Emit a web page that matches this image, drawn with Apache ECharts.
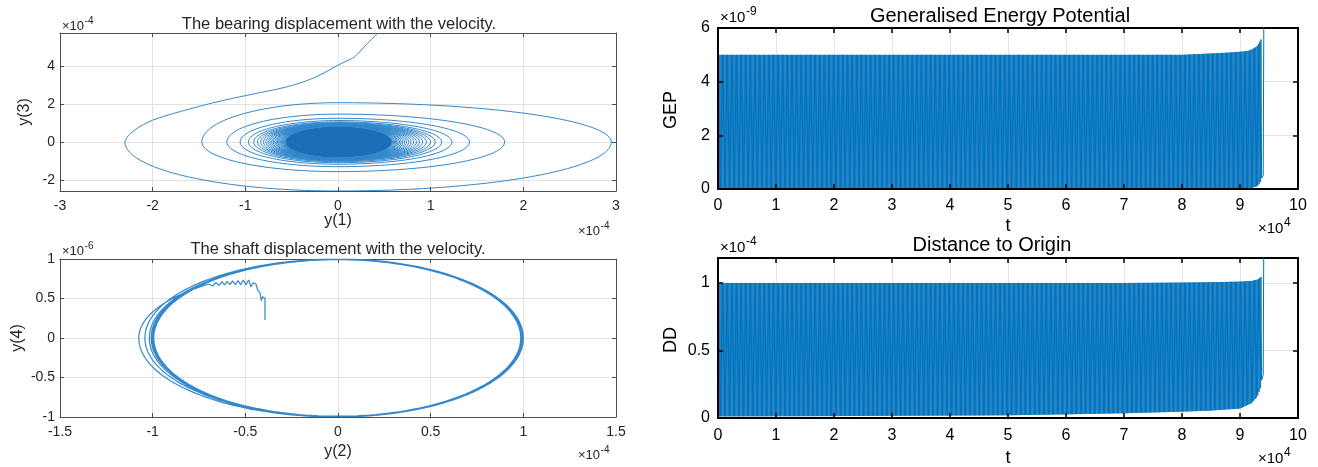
<!DOCTYPE html>
<html>
<head>
<meta charset="utf-8">
<script src="https://cdn.jsdelivr.net/npm/echarts@6/dist/echarts.min.js"></script>
<style>
  html, body { margin: 0; padding: 0; background: #ffffff; }
  #chart { width: 1318px; height: 467px; }
</style>
</head>
<body>
<div id="chart"></div>
<script>
// Axis units: bearing x,y in 1e-4; shaft x in 1e-4, shaft y in 1e-6;
// t in 1e4; GEP in 1e-9; DD in 1e-4.

// ---- Bearing phase portrait (y(1) vs y(3)) ----
// entry branch, from the top edge down to the first left turning point
const bearingEntryX = [0.43, 0.30, 0.18, 0.09, 0.00, -0.15, -0.30, -0.48, -0.66, -0.84, -1.02, -1.21, -1.40, -1.57, -1.74, -1.88, -2.00, -2.10, -2.18, -2.24, -2.28, -2.30];
const bearingEntryY = [5.74, 5.10, 4.49, 4.26, 4.05, 3.64, 3.30, 3.00, 2.78, 2.60, 2.42, 2.22, 2.00, 1.78, 1.55, 1.35, 1.15, 0.92, 0.68, 0.45, 0.22, 0.00];
// turning points of each revolution (left, bottom, right, top)
const bearingLeft   = [-2.30, -1.47, -1.20, -1.057, -0.967, -0.91, -0.87, -0.835, -0.805, -0.78, -0.757, -0.736, -0.717, -0.70, -0.684, -0.669, -0.655, -0.642, -0.63, -0.619, -0.609, -0.60, -0.591, -0.583, -0.575, -0.568];
const bearingBottom = [-2.58, -1.56, -1.30, -1.17, -1.09, -1.04, -1.00, -0.98, -0.965, -0.95, -0.94, -0.93, -0.92, -0.91, -0.90, -0.89, -0.885, -0.88, -0.875, -0.87, -0.865, -0.86, -0.855, -0.85, -0.845, -0.84];
const bearingRight  = [2.95, 1.80, 1.42, 1.23, 1.12, 1.05, 1.00, 0.955, 0.915, 0.88, 0.848, 0.818, 0.79, 0.765, 0.742, 0.72, 0.70, 0.682, 0.665, 0.649, 0.635, 0.622, 0.61, 0.599, 0.589, 0.58];
const bearingTop    = [2.07, 1.47, 1.25, 1.13, 1.06, 1.02, 0.99, 0.97, 0.955, 0.94, 0.93, 0.92, 0.91, 0.90, 0.89, 0.885, 0.88, 0.875, 0.87, 0.865, 0.86, 0.855, 0.85, 0.845, 0.84, 0.835];
// densely wound core: left, right, bottom, top
const bearingCore   = [-0.57, 0.585, -0.83, 0.83];

// ---- Shaft phase portrait (y(2) vs y(4)) ----
const shaftStartX = [-0.394, -0.394, -0.407, -0.414, -0.421, -0.432, -0.443, -0.457, -0.470, -0.482, -0.497, -0.511, -0.525, -0.540, -0.554, -0.569, -0.583, -0.598, -0.612, -0.626, -0.641, -0.659, -0.676, -0.698];
const shaftStartY = [0.228, 0.502, 0.523, 0.472, 0.574, 0.599, 0.684, 0.700, 0.650, 0.734, 0.675, 0.734, 0.675, 0.726, 0.675, 0.722, 0.675, 0.717, 0.671, 0.713, 0.667, 0.700, 0.658, 0.684];
const shaftLeft   = [-1.075, -1.042, -1.018, -1.008, -1.000, -0.994, -1.004, -0.996, -1.001];
const shaftBottom = [-1.000, -0.994, -1.000, -0.990, -0.998, -1.000, -0.993, -0.999, -1.000];
const shaftRight  = [1.000, 0.990, 0.997, 0.986, 1.000, 0.993, 0.988, 0.998, 0.992];
const shaftTop    = [1.000, 0.994, 1.000, 0.991, 0.999, 1.000, 0.993, 0.998, 0.996];

// ---- Generalised Energy Potential envelope ----
const gepT     = [0, 8.0, 8.5, 8.85, 9.03, 9.14, 9.2, 9.29, 9.34, 9.38];
const gepUpper = [5.0, 5.0, 5.05, 5.09, 5.12, 5.15, 5.2, 5.31, 5.49, 5.65];
const gepLower = [0, 0, 0, 0, 0.01, 0.02, 0.04, 0.10, 0.20, 0.45];
const gepTailT = [9.40, 9.412];
const gepTailV = [0.5, 7.0];

// ---- Distance to Origin envelope ----
const ddT     = [0, 2, 4, 5, 6, 7, 8, 8.5, 9.0, 9.2, 9.3, 9.35, 9.38];
const ddUpper = [1.0, 1.0, 1.0, 1.0, 1.0, 1.0, 1.003, 1.006, 1.01, 1.015, 1.025, 1.04, 1.05];
const ddLower = [0.012, 0.014, 0.018, 0.02, 0.027, 0.035, 0.047, 0.055, 0.07, 0.11, 0.16, 0.22, 0.30];
const ddTailT = [9.40, 9.412];
const ddTailV = [0.32, 1.5];

// sampling step of the time series (half an oscillation)
const halfStep = 0.011;

// ---- tick labels ----
const xTicksBearing = [-3, -2, -1, 0, 1, 2, 3];
const xTicksShaft   = [-1.5, -1, -0.5, 0, 0.5, 1, 1.5];
const xTicksTime    = [0, 1, 2, 3, 4, 5, 6, 7, 8, 9, 10];

// ---------------------------------------------------------------------------
const FONT = "'Liberation Sans', Arial, Helvetica, sans-serif";
const LINE_BLUE = '#3388cb';
const CORE_BLUE = '#1c6fb7';
const MATLAB_BLUE = '#0072BD';

function zip(xs, ys) { return xs.map((x, i) => [x, ys[i]]); }

// revolutions: top -> left -> bottom -> right -> top, radii switch where they meet
function spiral(lefts, bottoms, rights, tops, startDeg, firstTop, stepDeg) {
  const rad = Math.PI / 180;
  const pts = [];
  const n = lefts.length;
  for (let k = 0; k < n; k++) {
    const from = k === 0 ? startDeg : 90;
    const last = k === n - 1;
    for (let d = from; last ? d <= 450 + 1e-9 : d < 450 - 1e-9; d += stepDeg) {
      const c = Math.cos(d * rad), s = Math.sin(d * rad);
      const rx = d < 270 ? -lefts[k] : rights[k];
      const ry = d < 180 ? (k === 0 ? firstTop : tops[k - 1]) : (d < 360 ? -bottoms[k] : tops[k]);
      pts.push([rx * c, ry * s]);
    }
  }
  return pts;
}

function outline(ext, stepDeg) {
  const rad = Math.PI / 180, pts = [];
  for (let d = 0; d < 360; d += stepDeg) {
    const c = Math.cos(d * rad), s = Math.sin(d * rad);
    pts.push([(c >= 0 ? ext[1] : -ext[0]) * c, (s >= 0 ? ext[3] : -ext[2]) * s]);
  }
  return pts;
}

function envelopeAt(ts, vs, t) {
  if (t <= ts[0]) return vs[0];
  for (let i = 1; i < ts.length; i++) {
    if (t <= ts[i]) {
      const f = (t - ts[i - 1]) / (ts[i] - ts[i - 1]);
      return vs[i - 1] + f * (vs[i] - vs[i - 1]);
    }
  }
  return vs[vs.length - 1];
}

function oscillation(ts, lower, upper, tailT, tailV) {
  const pts = [];
  const end = ts[ts.length - 1];
  for (let i = 0; i * halfStep <= end + 1e-9; i++) {
    const t = i * halfStep;
    pts.push([t, i % 2 ? envelopeAt(ts, upper, t) : envelopeAt(ts, lower, t)]);
  }
  tailT.forEach((t, j) => pts.push([t, tailV[j]]));
  return pts;
}

// bearing paths
const bearingEntry = zip(bearingEntryX, bearingEntryY);
const bearingRings = spiral(bearingLeft, bearingBottom, bearingRight, bearingTop, 180, 0, 3);

// shaft path: the start branch joins the first revolution
const sx = shaftStartX[shaftStartX.length - 1], sy = shaftStartY[shaftStartY.length - 1];
const joinDeg = Math.acos(sx / -shaftLeft[0]) * 180 / Math.PI;
const joinTop = sy / Math.sin(joinDeg * Math.PI / 180);
const shaftPath = zip(shaftStartX, shaftStartY)
  .concat(spiral(shaftLeft, shaftBottom, shaftRight, shaftTop, joinDeg, joinTop, 2));

const gepPath = oscillation(gepT, gepLower, gepUpper, gepTailT, gepTailV);
const ddPath = oscillation(ddT, ddLower, ddUpper, ddTailT, ddTailV);

// ---------------------------------------------------------------------------
const OLD = { line: '#4d4d4d', lineW: 1, tick: 4, tickW: 1, label: '#262626', size: 14, grid: '#e2e2e2' };
const NEW = { line: '#000000', lineW: 2, tick: 5, tickW: 1.5, label: '#000000', size: 16, grid: '#e4e4e4' };

function axisPair(kind, gridIndex, range, st, margin) {
  const base = {
    type: 'value', gridIndex: gridIndex, min: range.min, max: range.max,
    axisLine: { show: true, onZero: false, lineStyle: { color: st.line, width: st.lineW } },
    axisTick: { show: true, inside: true, length: st.tick, lineStyle: { color: st.line, width: st.tickW } },
    axisPointer: { show: false }
  };
  if (range.interval != null) base.interval = range.interval; else base.splitNumber = range.splitNumber;
  // main axis: line, ticks and labels drawn above the data
  const main = Object.assign({}, base, {
    position: kind === 'x' ? 'bottom' : 'left', z: 5,
    splitLine: { show: false },
    axisLabel: {
      show: true, color: st.label, fontSize: st.size, fontFamily: FONT, margin: margin,
      showMinLabel: range.hideMin ? false : null, showMaxLabel: range.hideMax ? false : null
    }
  });
  // opposite side: mirrored ticks plus the grid lines underneath the data
  const mirror = Object.assign({}, base, {
    position: kind === 'x' ? 'top' : 'right', z: 0,
    splitLine: { show: true, lineStyle: { color: st.grid, width: 1 } },
    axisLabel: { show: false }
  });
  return [main, mirror];
}

const xAxes = [].concat(
  axisPair('x', 0, { min: xTicksBearing[0], max: xTicksBearing[xTicksBearing.length - 1], interval: 1 }, OLD, 8),
  axisPair('x', 1, { min: xTicksShaft[0], max: xTicksShaft[xTicksShaft.length - 1], interval: 0.5 }, OLD, 8),
  axisPair('x', 2, { min: xTicksTime[0], max: xTicksTime[xTicksTime.length - 1], interval: 1 }, NEW, 9),
  axisPair('x', 3, { min: xTicksTime[0], max: xTicksTime[xTicksTime.length - 1], interval: 1 }, NEW, 10)
);
const yAxes = [].concat(
  axisPair('y', 0, { min: -2.58, max: 5.74, splitNumber: 5, hideMin: true, hideMax: true }, OLD, 5),
  axisPair('y', 1, { min: -1, max: 1, interval: 0.5 }, OLD, 5),
  axisPair('y', 2, { min: 0, max: 6, interval: 2 }, NEW, 8),
  axisPair('y', 3, { min: 0, max: 1.185, interval: 0.5, hideMax: true }, NEW, 8)
);

// ---- texts ----
const measure = document.createElement('canvas').getContext('2d');
function textWidth(str, size) { measure.font = size + 'px ' + FONT; return measure.measureText(str).width; }
const texts = [];
function label(x, y, text, size, color, vertical) {
  texts.push({
    type: 'text', x: x, y: y, rotation: vertical ? Math.PI / 2 : 0, silent: true, z: 10,
    style: { text: text, fontSize: size, fontFamily: FONT, fill: color, align: 'center', verticalAlign: 'middle' }
  });
}
function power(x, y, exp, size, supSize, color) {
  const w = textWidth('×10', size);
  texts.push({ type: 'text', x: x, y: y, silent: true, z: 10,
    style: { text: '×10', fontSize: size, fontFamily: FONT, fill: color, align: 'left', verticalAlign: 'middle' } });
  texts.push({ type: 'text', x: x + w + 0.5, y: y - size * 0.4, silent: true, z: 10,
    style: { text: exp, fontSize: supSize, fontFamily: FONT, fill: color, align: 'left', verticalAlign: 'middle' } });
}

label(339, 24, 'The bearing displacement with the velocity.', 16.5, '#262626');
label(338, 249, 'The shaft displacement with the velocity.', 16.5, '#262626');
label(338, 221, 'y(1)', 16, '#262626');
label(338, 452, 'y(2)', 16, '#262626');
label(25, 112, 'y(3)', 16, '#262626', true);
label(18, 338, 'y(4)', 16, '#262626', true);
power(62, 26, '-4', 13, 10, '#262626');
power(578, 231, '-4', 13, 10, '#262626');
power(62, 251, '-6', 13, 10, '#262626');
power(578, 455, '-4', 13, 10, '#262626');

label(1000, 16, 'Generalised Energy Potential', 20, '#000000');
label(992, 245, 'Distance to Origin', 20, '#000000');
label(1008, 226, 't', 18, '#000000');
label(1008, 458, 't', 18, '#000000');
label(671, 110, 'GEP', 18, '#000000', true);
label(671, 340, 'DD', 18, '#000000', true);
power(720, 18, '-9', 15, 12, '#000000');
power(720, 248, '-4', 15, 12, '#000000');
power(1258, 229, '4', 15, 12, '#000000');
power(1258, 459, '4', 15, 12, '#000000');

const option = {
  backgroundColor: '#ffffff',
  animation: false,
  grid: [
    { left: 60, top: 33, width: 556, height: 158, outerBoundsMode: 'none' },
    { left: 60, top: 259, width: 556, height: 158, outerBoundsMode: 'none' },
    { left: 718, top: 28, width: 580, height: 161, outerBoundsMode: 'none' },
    { left: 718, top: 258, width: 580, height: 160, outerBoundsMode: 'none' }
  ],
  xAxis: xAxes,
  yAxis: yAxes,
  graphic: texts,
  series: [
    {
      type: 'custom', name: 'core', xAxisIndex: 0, yAxisIndex: 0, silent: true, z: 1,
      data: [[0, 0]],
      renderItem: function (params, api) {
        const pts = outline(bearingCore, 4).map(p => api.coord(p));
        return { type: 'polygon', shape: { points: pts }, style: { fill: CORE_BLUE } };
      }
    },
    {
      type: 'line', name: 'bearing entry', xAxisIndex: 0, yAxisIndex: 0, data: bearingEntry,
      showSymbol: false, symbol: 'none', silent: true, z: 2, smooth: 0.3,
      lineStyle: { color: LINE_BLUE, width: 1 }
    },
    {
      type: 'line', name: 'bearing', xAxisIndex: 0, yAxisIndex: 0, data: bearingRings,
      showSymbol: false, symbol: 'none', silent: true, z: 2,
      lineStyle: { color: LINE_BLUE, width: 1 }
    },
    {
      type: 'line', name: 'shaft', xAxisIndex: 2, yAxisIndex: 2, data: shaftPath,
      showSymbol: false, symbol: 'none', silent: true, z: 2,
      lineStyle: { color: LINE_BLUE, width: 1.2 }
    },
    {
      type: 'line', name: 'GEP', xAxisIndex: 4, yAxisIndex: 4, data: gepPath,
      showSymbol: false, symbol: 'none', silent: true, z: 2, clip: true,
      lineStyle: { color: MATLAB_BLUE, width: 1 }
    },
    {
      type: 'line', name: 'DD', xAxisIndex: 6, yAxisIndex: 6, data: ddPath,
      showSymbol: false, symbol: 'none', silent: true, z: 2, clip: true,
      lineStyle: { color: MATLAB_BLUE, width: 1 }
    }
  ]
};

const chart = echarts.init(document.getElementById('chart'));
chart.setOption(option);
</script>
</body>
</html>
